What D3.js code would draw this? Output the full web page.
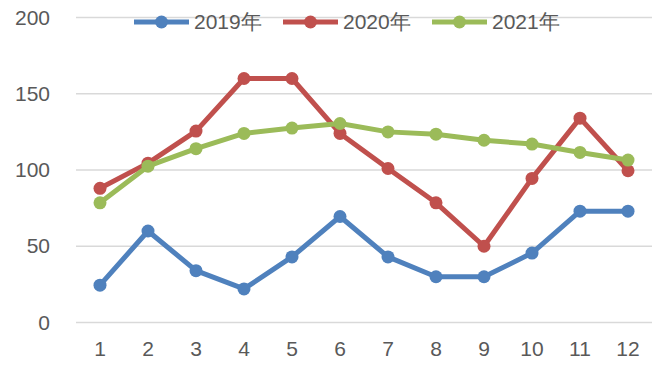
<!DOCTYPE html>
<html><head><meta charset="utf-8">
<script src="https://cdn.jsdelivr.net/npm/d3@7"></script>
<style>html,body{margin:0;padding:0;background:#fff;}svg{display:block;}</style>
</head><body>
<script>
const months = ["1","2","3","4","5","6","7","8","9","10","11","12"];
const seriesNames = ["2019年","2020年","2021年"];
const v2019 = [24.5,60,34,22,43,69.5,43,30,30,45.5,73,73];
const v2020 = [88,104.5,125.5,160,160,124,101,78.5,50,94.5,134,99.5];
const v2021 = [78.5,102.5,114,124,127.5,130.5,125,123.5,119.5,117,111.5,106.5];
const yTicks = [0,50,100,150,200];
const colors = ["#4F81BD","#C0504D","#9BBB59"];

const W=671,H=369;
const svg=d3.select("body").append("svg").attr("width",W).attr("height",H);
const font="'Liberation Sans', Arial, sans-serif";
const x=d3.scaleBand().domain(months).range([76,652]);
const y=d3.scaleLinear().domain([0,200]).range([322.5,17.5]);

// gridlines
svg.append("g").selectAll("line").data(yTicks).join("line")
  .attr("x1",76).attr("x2",652).attr("y1",d=>y(d)).attr("y2",d=>y(d))
  .attr("stroke","#d9d9d9").attr("stroke-width",1.5);

// y axis labels
const yAxis=svg.append("g").attr("transform","translate(76,0)")
  .call(d3.axisLeft(y).tickValues(yTicks).tickSize(0).tickPadding(26));
yAxis.select(".domain").remove();
yAxis.selectAll("text").attr("font-family",font).attr("font-size",21).attr("fill","#595959");

// x axis labels
const xAxis=svg.append("g").attr("transform","translate(0,322.5)")
  .call(d3.axisBottom(x).tickSize(0).tickPadding(19));
xAxis.select(".domain").remove();
xAxis.selectAll("text").attr("font-family",font).attr("font-size",21).attr("fill","#595959");

const data=[v2019,v2020,v2021];
const line=d3.line().x((d,i)=>x(months[i])+x.bandwidth()/2).y(d=>y(d));
data.forEach((vals,k)=>{
  const g=svg.append("g");
  g.append("path").attr("d",line(vals)).attr("fill","none")
    .attr("stroke",colors[k]).attr("stroke-width",5).attr("stroke-linejoin","round");
  g.selectAll("circle").data(vals).join("circle")
    .attr("cx",(d,i)=>x(months[i])+x.bandwidth()/2).attr("cy",d=>y(d))
    .attr("r",6.5).attr("fill",colors[k]);
});

// legend
const lg=svg.append("g");
seriesNames.forEach((name,k)=>{
  const lx=134+k*149, ly=22;
  lg.append("line").attr("x1",lx).attr("x2",lx+55).attr("y1",ly).attr("y2",ly)
    .attr("stroke",colors[k]).attr("stroke-width",5);
  lg.append("circle").attr("cx",lx+27.5).attr("cy",ly).attr("r",6.5).attr("fill",colors[k]);
  lg.append("text").attr("x",lx+60).attr("y",ly).attr("dy","0.35em")
    .attr("font-family",font).attr("font-size",21).attr("fill","#595959").text(name);
});
</script>
</body></html>
